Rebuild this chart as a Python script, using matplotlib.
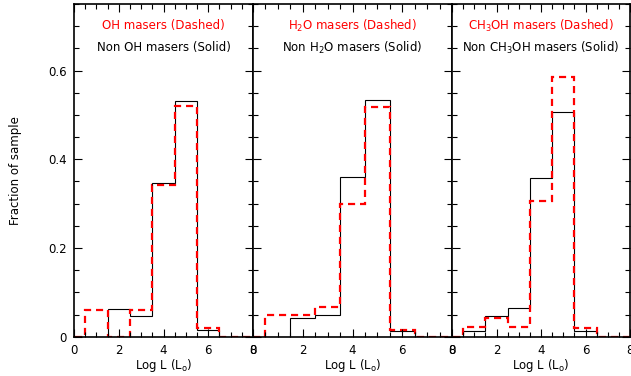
import matplotlib
matplotlib.use("Agg")
import matplotlib.pyplot as plt
from matplotlib.ticker import MultipleLocator

# Bin centres (log L, width 1)
bin_centers = [0, 1, 2, 3, 4, 5, 6, 7, 8]

oh_maser = [0.0, 0.060, 0.0, 0.060, 0.341, 0.520, 0.020, 0.0, 0.0]
oh_non = [0.0, 0.0, 0.062, 0.047, 0.347, 0.532, 0.015, 0.0, 0.0]

h2o_maser = [0.0, 0.050, 0.050, 0.068, 0.299, 0.517, 0.016, 0.0, 0.0]
h2o_non = [0.0, 0.0, 0.043, 0.050, 0.361, 0.534, 0.013, 0.0, 0.0]

ch3oh_maser = [0.0, 0.022, 0.043, 0.022, 0.305, 0.586, 0.020, 0.0, 0.0]
ch3oh_non = [0.0, 0.013, 0.047, 0.065, 0.357, 0.506, 0.013, 0.0, 0.0]

maser_labels = ["OH masers (Dashed)", "H$_2$O masers (Dashed)",
                "CH$_3$OH masers (Dashed)"]
non_labels = ["Non OH masers (Solid)", "Non H$_2$O masers (Solid)",
              "Non CH$_3$OH masers (Solid)"]
xlabel = "Log L (L$_{\\rm o}$)"
ylabel = "Fraction of sample"
xticks = [0, 2, 4, 6, 8]
yticks = [0, 0.2, 0.4, 0.6]
ytick_labels = ["0", "0.2", "0.4", "0.6"]

W, H = 631, 376
fig = plt.figure(figsize=(W / 100, H / 100), dpi=100)
plt.rcParams['font.family'] = ['DejaVu Sans']

bottom = (H - 336.7) / H
top = (H - 4) / H
height = top - bottom
panels_px = [(74, 253), (253, 452), (452, 630)]

maser_data = [oh_maser, h2o_maser, ch3oh_maser]
non_data = [oh_non, h2o_non, ch3oh_non]

edges = [c - 0.5 for c in bin_centers] + [bin_centers[-1] + 0.5]

for i, (l, r) in enumerate(panels_px):
    ax = fig.add_axes([l / W, bottom, (r - l) / W, height])
    ax.stairs(non_data[i], edges, baseline=0, color='black', lw=0.8)
    ax.stairs(maser_data[i], edges, baseline=0, color='red', lw=1.6,
              linestyle=(0, (3.2, 2.2)))
    ax.set_xlim(0, 8)
    ax.set_ylim(0, 0.75)
    ax.set_xticks(xticks)
    ax.set_xticklabels([str(t) for t in xticks])
    ax.xaxis.set_minor_locator(MultipleLocator(0.5))
    ax.yaxis.set_minor_locator(MultipleLocator(0.05))
    ax.set_yticks(yticks)
    if i == 0:
        ax.set_yticklabels(ytick_labels)
        ax.set_ylabel(ylabel, fontsize=8.5, labelpad=19)
    else:
        ax.set_yticklabels([])
    ax.tick_params(which='both', direction='in', top=True, right=True,
                   labelsize=8.5, width=0.8, color='black')
    ax.tick_params(which='major', length=6, pad=5)
    ax.tick_params(which='minor', length=3.5)
    for s in ax.spines.values():
        s.set_linewidth(1.2)
    ax.set_xlabel(xlabel, fontsize=8.5, labelpad=0)
    ax.text(0.5, 0.935, maser_labels[i], transform=ax.transAxes,
            color='red', ha='center', va='center', fontsize=8.5)
    ax.text(0.5, 0.868, non_labels[i], transform=ax.transAxes,
            color='black', ha='center', va='center', fontsize=8.5)

fig.savefig("out.png", dpi=100)
